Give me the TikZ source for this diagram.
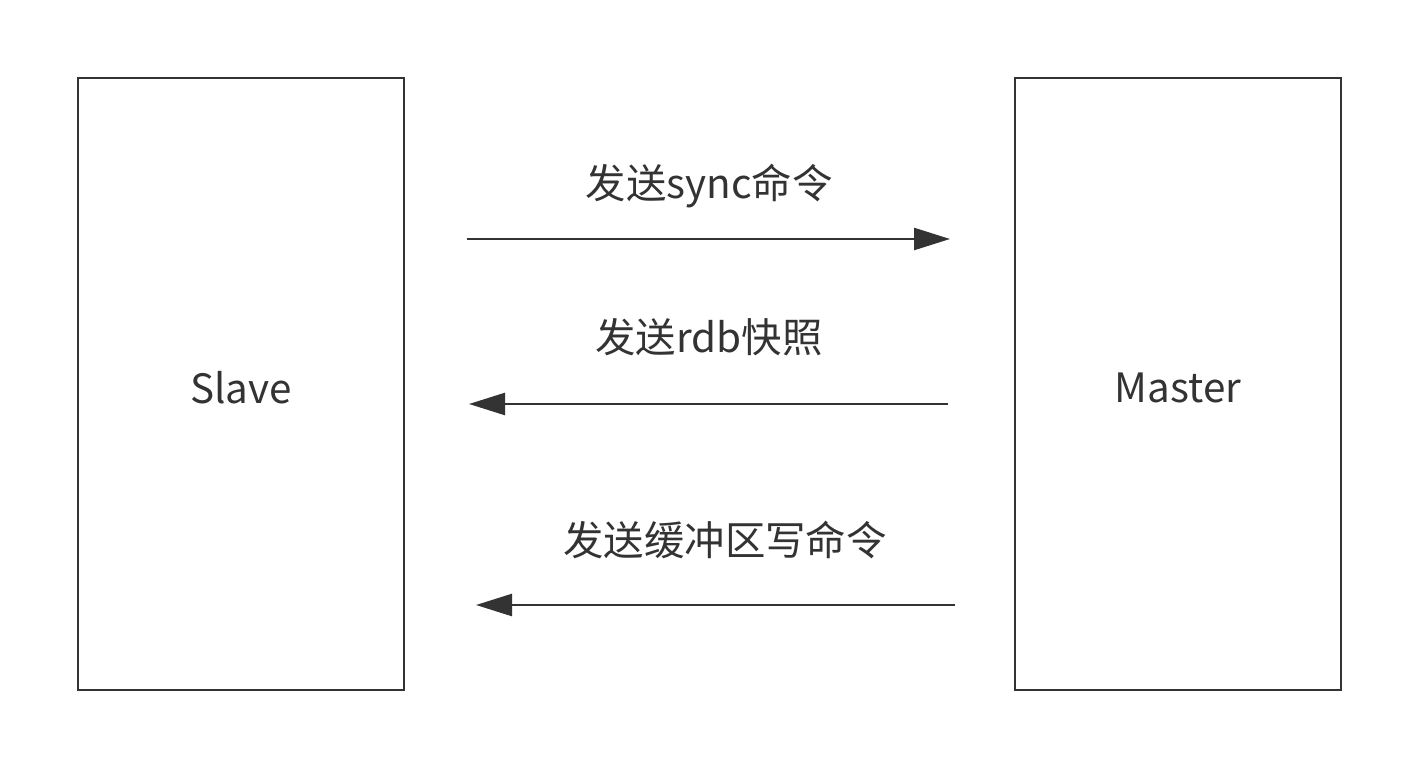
\documentclass[tikz,border=0pt]{standalone}
\usepackage{fontspec}
\setmainfont{Noto Sans CJK SC}
\usetikzlibrary{arrows.meta}
\definecolor{ink}{HTML}{333333}
\begin{document}
\begin{tikzpicture}[x=0.5pt,y=-0.5pt,
  box/.style={draw=ink,line width=1.35pt,fill=white},
  conn/.style={draw=ink,line width=1.25pt,-{Triangle[length=18pt,width=11pt]}},
  lbl/.style={text=ink,font=\fontsize{20.2pt}{24pt}\selectfont,inner sep=0pt}]
\useasboundingbox (0,0) rectangle (1420,770);
\draw[box] (78,78) rectangle (404,690);
\node[lbl] (slave) at (241,388) {Slave};
\draw[box] (1015,78) rectangle (1341,690);
\node[lbl] (master) at (1178,388) {Master};
\coordinate (a1s) at (467,239);
\coordinate (a1e) at (950,239);
\coordinate (a2s) at (948,404);
\coordinate (a2e) at (469,404);
\coordinate (a3s) at (955,605);
\coordinate (a3e) at (476,605);
\draw[conn] (a1s) -- (a1e);
\draw[conn] (a2s) -- (a2e);
\draw[conn] (a3s) -- (a3e);
\node[lbl] (l1) at (709,186) {发送sync命令};
\node[lbl] (l2) at (709,337) {发送rdb快照};
\node[lbl] (l3) at (725,540) {发送缓冲区写命令};
\end{tikzpicture}
\end{document}
